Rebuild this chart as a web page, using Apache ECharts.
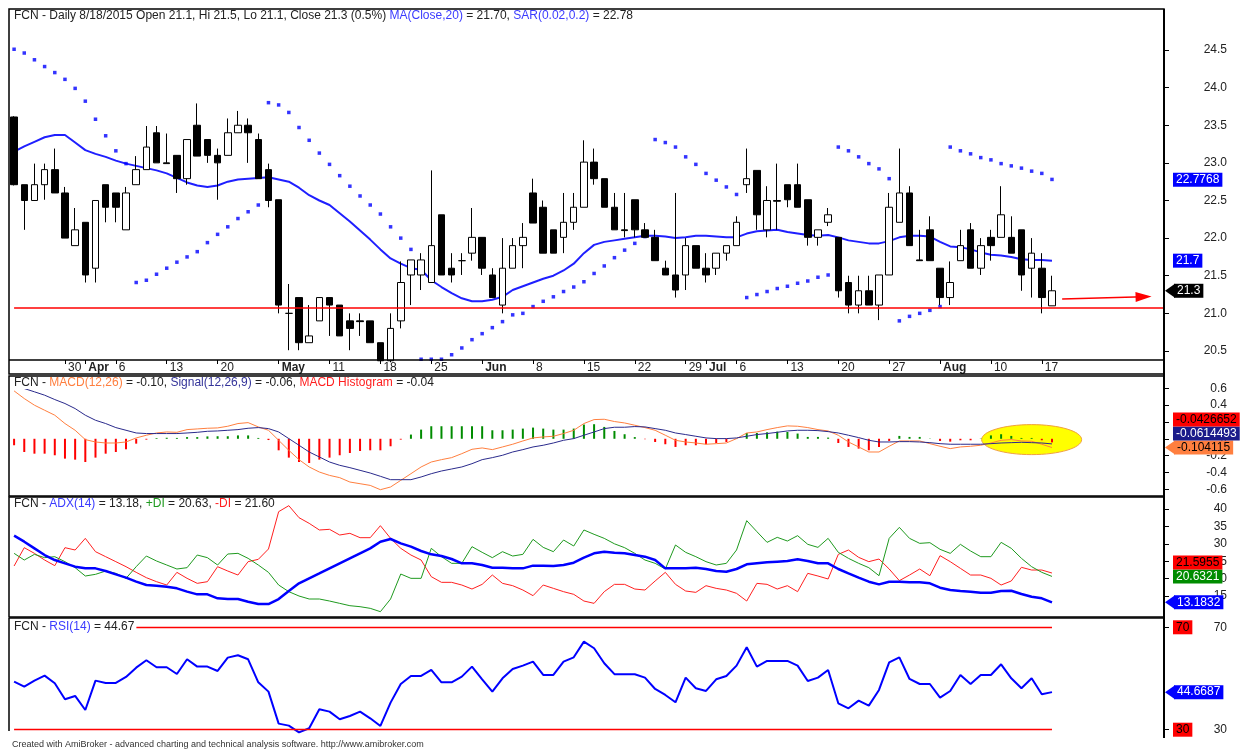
<!DOCTYPE html>
<html>
<head>
<meta charset="utf-8">
<script src="https://cdn.jsdelivr.net/npm/echarts@6/dist/echarts.min.js"></script>
<style>
  html, body { margin: 0; padding: 0; background: #fff; }
  #main { width: 1245px; height: 749px; }
</style>
</head>
<body>
<div id="main"></div>
<script>
// ---- data (Mar 23 - Aug 18, 2015) ----
const dates = [
  '3/23','3/24','3/25','3/26','3/27','3/30','3/31','4/1','4/2','4/3',
  '4/6','4/7','4/8','4/9','4/10','4/13','4/14','4/15','4/16','4/17',
  '4/20','4/21','4/22','4/23','4/24','4/27','5/4','5/5','5/6','5/7',
  '5/8','5/11','5/12','5/13','5/14','5/15','5/18','5/19','5/20','5/21',
  '5/22','5/25','5/26','5/27','5/28','5/29','6/1','6/2','6/3','6/4',
  '6/5','6/8','6/9','6/10','6/11','6/12','6/15','6/16','6/17','6/18',
  '6/19','6/22','6/23','6/24','6/25','6/26','6/29','6/30','7/1','7/2',
  '7/3','7/6','7/7','7/8','7/9','7/10','7/13','7/14','7/15','7/16',
  '7/17','7/20','7/21','7/22','7/23','7/24','7/27','7/28','7/29','7/30',
  '7/31','8/3','8/4','8/5','8/6','8/7','8/10','8/11','8/12','8/13',
  '8/14','8/17','8/18'
];

const openP = [
  23.61,22.71,22.50,22.71,22.91,22.60,21.90,22.21,21.60,22.71,
  22.60,22.11,22.71,22.91,23.40,23.00,23.10,22.79,23.50,23.31,
  23.10,23.10,23.40,23.50,23.31,22.91,22.51,21.00,21.21,20.61,
  20.90,21.21,21.11,20.90,20.90,20.90,20.61,20.37,20.90,21.51,
  21.51,21.41,22.31,21.60,21.70,21.80,22.01,21.51,21.11,21.60,
  21.90,22.60,22.41,22.11,22.01,22.21,22.41,23.01,22.79,22.41,
  22.11,22.51,22.11,22.01,21.60,21.51,21.51,21.90,21.60,21.60,
  21.80,21.90,22.71,22.90,22.11,22.50,22.71,22.71,22.51,22.01,
  22.21,22.01,21.41,21.11,21.30,21.11,21.51,22.21,22.60,21.71,
  22.11,21.60,21.21,21.70,22.11,21.60,22.01,22.01,22.01,22.11,
  21.60,21.60,21.10
];
const highP = [
  23.62,22.71,22.99,22.99,23.19,22.68,22.40,22.21,22.50,22.71,
  22.60,22.68,23.09,23.49,23.49,23.39,23.10,23.31,23.79,23.31,
  23.19,23.59,23.69,23.59,23.39,22.99,22.51,21.39,21.21,21.11,
  21.21,21.21,21.11,21.00,21.00,20.90,20.61,21.00,21.69,21.71,
  21.80,22.90,22.31,21.80,21.80,22.40,22.01,21.60,22.00,22.00,
  22.20,22.79,22.50,22.11,22.60,22.60,23.30,23.19,22.79,22.60,
  22.60,22.51,22.20,22.11,21.70,22.60,22.00,21.90,21.80,21.80,
  21.90,22.29,23.19,22.90,22.69,22.99,22.71,22.99,22.51,22.11,
  22.40,22.01,21.50,21.50,21.50,21.51,22.60,23.19,22.69,22.11,
  22.29,21.60,21.69,22.11,22.20,22.00,22.11,22.69,22.29,22.11,
  22.00,21.80,21.50
];
const lowP = [
  22.70,22.11,22.50,22.51,22.60,22.00,21.90,21.41,21.41,22.21,
  22.21,22.11,22.71,22.91,23.00,22.99,22.60,22.71,23.09,23.00,
  22.51,23.10,23.40,23.00,22.79,22.41,21.00,20.51,20.51,20.61,
  20.90,20.70,20.70,20.51,20.70,20.61,20.35,20.35,20.80,21.11,
  21.31,21.41,21.51,21.41,21.51,21.70,21.51,21.21,21.00,21.60,
  21.60,22.20,21.80,21.80,21.80,22.11,22.41,22.71,22.41,22.11,
  22.01,22.01,22.01,21.70,21.51,21.21,21.31,21.60,21.41,21.51,
  21.70,21.90,22.60,22.11,22.01,22.11,22.41,22.41,21.90,21.90,
  22.16,21.21,21.00,21.00,21.11,20.91,21.51,22.21,21.90,21.70,
  21.70,21.11,21.11,21.70,21.60,21.51,21.70,22.01,21.80,21.30,
  21.21,21.00,21.10
];
const closeP = [
  22.71,22.50,22.71,22.91,22.60,22.00,22.11,21.51,22.50,22.41,
  22.41,22.60,22.91,23.21,23.00,22.99,22.79,23.31,23.09,23.10,
  23.00,23.40,23.50,23.40,22.79,22.50,21.11,21.00,20.61,20.70,
  21.21,21.11,20.70,20.80,20.89,20.61,20.37,20.80,21.41,21.71,
  21.71,21.90,21.51,21.51,21.70,22.01,21.60,21.21,21.60,21.90,
  22.01,22.20,21.80,21.80,22.21,22.41,23.01,22.79,22.41,22.11,
  22.10,22.11,22.01,21.70,21.51,21.31,21.90,21.60,21.51,21.80,
  21.90,22.21,22.79,22.31,22.50,22.49,22.51,22.41,22.01,22.11,
  22.31,21.30,21.11,21.30,21.11,21.51,22.41,22.60,21.90,21.70,
  21.70,21.21,21.41,21.90,21.60,21.90,21.90,22.31,21.80,21.51,
  21.80,21.21,21.30
];

const ma20 = [
  23.15,23.22,23.28,23.34,23.37,23.37,23.27,23.17,23.12,23.08,
  23.03,22.99,22.96,22.93,22.90,22.86,22.80,22.74,22.70,22.68,
  22.70,22.75,22.78,22.79,22.80,22.81,22.78,22.75,22.67,22.57,
  22.50,22.44,22.33,22.22,22.10,21.98,21.85,21.73,21.66,21.60,
  21.58,21.44,21.35,21.27,21.20,21.16,21.16,21.18,21.22,21.31,
  21.36,21.41,21.46,21.50,21.57,21.66,21.80,21.91,21.95,21.97,
  21.99,22.01,22.03,22.03,22.02,22.00,22.01,22.03,22.03,22.02,
  22.01,22.01,22.06,22.09,22.10,22.11,22.08,22.06,22.04,22.03,
  22.04,22.01,21.97,21.95,21.93,21.93,21.96,22.01,22.03,22.03,
  22.02,21.95,21.89,21.88,21.85,21.81,21.78,21.77,21.75,21.72,
  21.71,21.71,21.70
];

const sar = [
  24.51,24.46,24.37,24.28,24.20,24.11,23.99,23.82,23.58,23.36,
  23.16,22.99,21.41,21.44,21.52,21.60,21.68,21.75,21.82,21.94,
  22.05,22.15,22.26,22.35,22.44,23.80,23.77,23.67,23.47,23.30,
  23.13,22.98,22.83,22.69,22.56,22.44,22.32,22.15,22.00,21.85,
  20.39,20.39,20.39,20.45,20.54,20.65,20.73,20.81,20.89,20.98,
  21.00,21.09,21.16,21.22,21.29,21.35,21.42,21.53,21.63,21.74,
  21.84,21.93,22.02,23.31,23.27,23.21,23.08,22.98,22.86,22.77,
  22.68,22.58,21.21,21.25,21.29,21.33,21.36,21.40,21.43,21.48,
  21.51,23.21,23.16,23.08,22.99,22.92,22.79,20.90,20.96,21.00,
  21.04,21.09,23.21,23.16,23.12,23.07,23.04,22.99,22.96,22.93,
  22.89,22.86,22.78
];

const macd = [
  0.569,0.478,0.399,0.339,0.280,0.181,0.101,-0.010,-0.038,-0.050,
  -0.050,-0.038,0.010,0.042,0.069,0.081,0.077,0.109,0.117,0.125,
  0.129,0.149,0.181,0.192,0.141,0.101,-0.018,-0.137,-0.248,-0.335,
  -0.395,-0.435,-0.462,-0.514,-0.534,-0.554,-0.605,-0.573,-0.494,-0.415,
  -0.335,-0.276,-0.248,-0.224,-0.177,-0.125,-0.109,-0.129,-0.097,-0.065,
  -0.026,0.010,0.022,0.030,0.062,0.101,0.181,0.228,0.232,0.205,
  0.188,0.161,0.133,0.101,0.042,-0.018,-0.038,-0.050,-0.065,-0.058,
  -0.050,0.002,0.069,0.081,0.109,0.133,0.153,0.149,0.133,0.109,
  0.093,0.042,-0.038,-0.097,-0.157,-0.157,-0.089,-0.026,-0.026,-0.026,
  -0.058,-0.089,-0.117,-0.097,-0.089,-0.077,-0.050,-0.018,-0.010,-0.026,
  -0.030,-0.065,-0.104
];
const signal = [
  0.640,0.597,0.558,0.518,0.466,0.419,0.359,0.280,0.220,0.181,
  0.133,0.101,0.069,0.062,0.062,0.062,0.062,0.069,0.077,0.089,
  0.093,0.101,0.109,0.125,0.133,0.121,0.081,0.002,-0.077,-0.157,
  -0.216,-0.276,-0.315,-0.343,-0.375,-0.407,-0.446,-0.486,-0.486,-0.486,
  -0.454,-0.415,-0.383,-0.359,-0.335,-0.296,-0.248,-0.224,-0.196,-0.157,
  -0.129,-0.097,-0.077,-0.050,-0.018,0.002,0.042,0.081,0.121,0.137,
  0.137,0.145,0.141,0.121,0.101,0.069,0.050,0.030,0.010,0.002,
  0.002,0.010,0.030,0.050,0.062,0.077,0.093,0.101,0.101,0.097,
  0.085,0.069,0.042,0.014,-0.018,-0.038,-0.038,-0.034,-0.034,-0.038,
  -0.046,-0.058,-0.065,-0.065,-0.065,-0.065,-0.058,-0.050,-0.046,-0.042,
  -0.046,-0.050,-0.061
];
const hist = [
  -0.077,-0.157,-0.177,-0.177,-0.196,-0.236,-0.248,-0.276,-0.224,-0.177,
  -0.157,-0.125,-0.058,-0.010,0.008,0.012,0.010,0.020,0.020,0.028,
  0.030,0.030,0.040,0.040,0.010,-0.015,-0.137,-0.224,-0.276,-0.288,
  -0.248,-0.224,-0.196,-0.169,-0.145,-0.137,-0.137,-0.089,-0.010,0.050,
  0.109,0.149,0.149,0.149,0.149,0.149,0.149,0.101,0.101,0.109,
  0.121,0.133,0.121,0.109,0.109,0.121,0.169,0.173,0.141,0.093,
  0.054,0.020,-0.005,-0.038,-0.065,-0.097,-0.077,-0.077,-0.065,-0.050,
  -0.038,0.003,0.069,0.069,0.077,0.085,0.081,0.062,0.022,0.022,
  0.014,-0.050,-0.097,-0.117,-0.137,-0.097,-0.026,0.034,0.022,0.022,
  0.003,-0.026,-0.034,-0.018,-0.018,0.003,0.040,0.054,0.034,0.010,
  0.010,-0.018,-0.043
];

const adx = [
  32.34,30.61,28.70,26.78,25.34,24.39,23.43,22.95,22.95,22.18,
  21.23,20.27,19.12,18.16,17.97,17.68,17.20,16.25,15.48,15.48,
  14.33,14.14,14.14,13.37,12.70,12.70,14.14,16.44,18.64,20.08,
  21.51,22.95,24.39,25.82,27.26,28.70,30.61,31.38,30.13,29.18,
  27.93,26.97,26.49,25.63,24.39,24.39,23.91,23.14,23.14,22.95,
  22.95,23.72,23.72,23.62,23.91,24.58,26.02,27.26,27.74,27.40,
  27.26,26.78,26.30,25.34,22.95,22.95,22.95,23.14,22.76,22.18,
  21.99,22.76,24.10,24.39,24.67,24.87,25.06,25.54,25.06,24.39,
  24.39,22.76,21.51,20.27,19.12,18.35,19.12,19.12,18.93,18.93,
  18.64,17.39,16.72,16.44,16.25,15.96,15.96,16.44,16.53,15.57,
  14.81,14.33,13.18
];
const plusDI = [
  27.26,25.34,26.97,26.02,26.30,24.87,23.14,20.75,21.23,22.18,
  21.51,20.08,23.43,26.49,25.06,23.91,22.76,23.14,26.78,26.02,
  23.91,27.07,27.26,25.82,23.91,21.80,18.16,16.25,15.00,14.14,
  14.14,13.56,12.89,12.22,11.93,11.46,10.50,14.14,21.32,20.08,
  20.08,28.70,26.30,24.39,24.39,29.18,27.55,26.02,27.74,26.49,
  26.97,31.28,28.98,27.74,31.09,29.37,33.97,32.72,31.57,30.00,
  28.89,27.26,25.34,24.39,22.76,29.66,27.55,26.30,24.87,23.91,
  24.39,28.22,36.65,33.49,30.42,31.86,30.80,32.34,29.85,28.98,
  31.57,27.55,25.82,24.39,23.14,20.84,31.57,34.73,31.57,30.13,
  30.33,28.41,27.26,29.85,27.93,26.30,26.30,30.42,28.70,25.82,
  23.43,21.80,20.63
];
const minusDI = [
  23.62,28.89,27.26,25.34,23.72,28.89,28.22,31.57,27.74,26.30,
  24.87,23.43,21.80,20.27,19.12,18.16,21.80,20.08,18.64,19.12,
  23.43,22.18,21.03,24.87,25.54,28.51,39.23,40.96,37.51,35.88,
  33.97,34.16,32.53,33.01,31.76,31.76,35.21,31.57,28.70,26.78,
  25.34,20.56,18.93,18.93,18.16,17.01,18.35,21.03,18.64,17.97,
  16.72,15.10,18.16,17.20,16.25,15.48,13.56,12.89,16.25,18.35,
  18.35,17.01,16.72,19.31,21.80,18.35,16.44,16.05,17.97,17.20,
  16.72,15.77,13.56,18.64,18.35,17.01,17.97,16.25,21.51,20.75,
  19.89,26.97,28.22,26.11,24.87,25.63,22.76,19.41,21.03,22.76,
  20.84,26.59,24.87,22.95,21.03,21.03,20.08,18.16,19.31,23.24,
  22.47,22.47,21.60
];

const rsi = [
  48.78,46.82,49.17,51.12,48.13,41.88,43.18,37.71,49.17,48.26,
  48.26,50.60,54.24,57.11,54.38,54.38,51.77,57.50,54.64,54.64,
  52.94,58.15,59.06,57.50,48.52,44.87,32.37,31.59,28.98,30.55,
  37.97,37.06,34.06,35.36,37.06,34.45,31.46,40.57,47.86,50.99,
  50.99,53.33,48.52,48.52,50.73,54.64,49.69,44.87,50.08,53.72,
  55.03,56.59,51.38,51.38,56.59,58.28,64.40,61.80,55.94,51.70,
  51.64,51.64,50.34,45.91,43.57,40.70,50.34,46.17,45.13,49.69,
  50.99,55.03,62.19,54.64,56.85,56.85,56.85,55.03,49.04,50.34,
  53.33,40.31,38.36,41.35,39.40,45.52,56.33,58.28,49.82,47.86,
  47.86,42.53,45.13,51.38,47.86,51.38,51.38,55.55,50.08,46.17,
  50.08,43.83,44.67
];

// date axis labels (bar index -> text)
const tickPos  = [5, 7, 10, 15, 20, 26, 31, 36, 41, 46, 51, 56, 61, 66, 68, 71, 76, 81, 86, 91, 96, 101];
const tickText = ['30','Apr','6','13','20','May','11','18','25','Jun','8','15','22','29','Jul','6','13','20','27','Aug','10','17'];
const months = ['Apr', 'May', 'Jun', 'Jul', 'Aug'];

const priceTicks = [20.5, 21.0, 21.5, 22.0, 22.5, 23.0, 23.5, 24.0, 24.5];
const macdTicks  = [-0.6, -0.4, -0.2, 0, 0.2, 0.4, 0.6];
const adxTicks   = [15, 20, 25, 30, 35, 40];
const rsiTicks   = [30, 70];

const supportLevel = 21.07;   // red horizontal line
const rsiLevels = [70, 30];
const padBars = 11;           // empty space right of last bar

// -----------------------------------------------------------------
const FONT = 'Arial, "Liberation Sans", sans-serif';
const cats = dates.concat(Array.from({ length: padBars }, (_, k) => 'pad' + k));
const showTick = (i) => tickPos.indexOf(i) >= 0;

const ohlc = dates.map((d, i) => [openP[i], closeP[i], lowP[i], highP[i]]);

const grids = [
  { left: 9, width: 1160, top: 9,   height: 351 },
  { left: 9, width: 1160, top: 376, height: 120 },
  { left: 9, width: 1160, top: 497, height: 120 },
  { left: 9, width: 1160, top: 618, height: 120 }
];

const yCfg = [
  { min: 20.38, max: 25.045, ticks: priceTicks, fmt: v => v.toFixed(1) },
  { min: -0.68, max: 0.746, ticks: macdTicks, fmt: v => String(v) },
  { min: 8.97, max: 43.45, ticks: adxTicks, fmt: v => String(v) },
  { min: 26.76, max: 73.63, ticks: rsiTicks, fmt: v => String(v) }
];

const rich = (c) => ({ color: c, fontSize: 12, fontFamily: FONT, fontWeight: 'normal' });
const titleStyle = {
  fontSize: 12, fontWeight: 'normal', fontFamily: FONT, color: '#222',
  rich: {
    d: rich('#222'), bl: rich('#3b3bff'), o: rich('#ff7f3f'), n: rich('#34349a'),
    r: rich('#ff2020'), g: rich('#1f9a1f')
  }
};
const redLine = { color: '#ff0000', width: 1.3, type: 'solid', opacity: 1 };

var option = {
  animation: false,
  backgroundColor: '#fff',
  textStyle: { fontFamily: FONT },
  title: [
    { left: 12, top: 10, padding: [0, 2], backgroundColor: '#fff', textStyle: titleStyle,
      text: '{d|FCN - Daily 8/18/2015 Open 21.1, Hi 21.5, Lo 21.1, Close 21.3 (0.5%) }{bl|MA(Close,20)}{d| = 21.70, }{bl|SAR(0.02,0.2)}{d| = 22.78}' },
    { left: 12, top: 377, padding: [0, 2], backgroundColor: '#fff', textStyle: titleStyle,
      text: '{d|FCN - }{o|MACD(12,26)}{d| = -0.10, }{n|Signal(12,26,9)}{d| = -0.06, }{r|MACD Histogram}{d| = -0.04}' },
    { left: 12, top: 498, padding: [0, 2], backgroundColor: '#fff', textStyle: titleStyle,
      text: '{d|FCN - }{bl|ADX(14)}{d| = 13.18, }{g|+DI}{d| = 20.63, }{r|-DI}{d| = 21.60}' },
    { left: 12, top: 621, padding: [0, 2], backgroundColor: '#fff', textStyle: titleStyle,
      text: '{d|FCN - }{bl|RSI(14)}{d| = 44.67}' },
    { left: 12, top: 740, padding: 0, backgroundColor: '#fff',
      text: 'Created with AmiBroker - advanced charting and technical analysis software. http://www.amibroker.com',
      textStyle: { fontSize: 9, fontWeight: 'normal', fontFamily: FONT, color: '#333' } }
  ],
  grid: grids,
  xAxis: grids.map((g, gi) => ({
    type: 'category', gridIndex: gi, data: cats, boundaryGap: true,
    axisLine: { show: false },
    splitLine: { show: false },
    axisTick: { show: gi === 0, alignWithLabel: true, interval: showTick, length: 4,
                lineStyle: { color: '#000', width: 1 } },
    axisLabel: {
      show: gi === 0, interval: showTick, align: 'left', margin: 2, padding: [0, 0, 0, 3],
      fontSize: 12, color: '#222', fontFamily: FONT,
      formatter: (v, i) => {
        const t = tickText[tickPos.indexOf(i)] || '';
        return months.indexOf(t) >= 0 ? '{m|' + t + '}' : t;
      },
      rich: { m: { fontWeight: 'bold', fontSize: 12, color: '#222', fontFamily: FONT } }
    }
  })),
  yAxis: yCfg.map((c, gi) => ({
    type: 'value', gridIndex: gi, position: 'right', offset: -5,
    min: c.min, max: c.max, scale: true,
    splitLine: { show: false },
    axisLine: { show: false },
    axisTick: { show: true, customValues: c.ticks, length: 5, lineStyle: { color: '#000' } },
    axisLabel: { customValues: c.ticks, formatter: c.fmt, align: 'right', margin: 63,
                 fontSize: 12, color: '#222', fontFamily: FONT }
  })),
  series: [
    {
      name: 'MA20', type: 'line', xAxisIndex: 0, yAxisIndex: 0, data: ma20, z: 1,
      symbol: 'none', lineStyle: { color: '#1f1fff', width: 2 }
    },
    {
      name: 'SAR', type: 'scatter', xAxisIndex: 0, yAxisIndex: 0, data: sar, z: 1,
      symbol: 'rect', symbolSize: 3.5, itemStyle: { color: '#0000ff' }
    },
    {
      name: 'FCN', type: 'candlestick', xAxisIndex: 0, yAxisIndex: 0, data: ohlc, z: 3,
      barWidth: 7,
      itemStyle: { color: '#fff', color0: '#000', borderColor: '#000', borderColor0: '#000', borderWidth: 1 },
      markLine: {
        silent: true, symbol: ['none', 'none'], label: { show: false },
        emphasis: { disabled: true },
        lineStyle: { color: '#ff0000', width: 1.5, type: 'solid' },
        data: [
          [{ coord: [0, supportLevel] }, { coord: [cats.length - 1, supportLevel] }],
          [{ coord: [103, 21.19] }, { coord: [111, 21.22], symbol: 'triangle', symbolSize: [10, 16] }]
        ]
      }
    },
    {
      name: 'MACD Histogram', type: 'bar', xAxisIndex: 1, yAxisIndex: 1, barWidth: 2,
      data: hist.map(v => ({ value: v, itemStyle: { color: v >= 0 ? '#008c00' : '#ff0000' } }))
    },
    {
      name: 'MACD', type: 'line', xAxisIndex: 1, yAxisIndex: 1, data: macd,
      symbol: 'none', lineStyle: { color: '#ff7f3f', width: 1 }
    },
    {
      name: 'Signal', type: 'line', xAxisIndex: 1, yAxisIndex: 1, data: signal,
      symbol: 'none', lineStyle: { color: '#2a2a8c', width: 1 }
    },
    {
      name: '-DI', type: 'line', xAxisIndex: 2, yAxisIndex: 2, data: minusDI,
      symbol: 'none', lineStyle: { color: '#ff2020', width: 1 }
    },
    {
      name: '+DI', type: 'line', xAxisIndex: 2, yAxisIndex: 2, data: plusDI,
      symbol: 'none', lineStyle: { color: '#1f9a1f', width: 1 }
    },
    {
      name: 'ADX', type: 'line', xAxisIndex: 2, yAxisIndex: 2, data: adx,
      symbol: 'none', lineStyle: { color: '#0000ff', width: 2.5 }
    },
    {
      name: 'RSI', type: 'line', xAxisIndex: 3, yAxisIndex: 3, data: rsi, z: 3,
      symbol: 'none', lineStyle: { color: '#0000ff', width: 2 }
    },
    {
      name: 'RSI levels', type: 'line', xAxisIndex: 3, yAxisIndex: 3, data: [], z: 2,
      symbol: 'none', color: '#ff0000',
      markLine: {
        silent: true, symbol: ['none', 'none'], label: { show: false },
        emphasis: { disabled: true },
        lineStyle: redLine,
        data: rsiLevels.map(lv => [
          { coord: [0, lv], lineStyle: redLine },
          { coord: [dates.length - 1, lv], lineStyle: redLine }
        ])
      }
    }
  ]
};

var chart = echarts.init(document.getElementById('main'));
chart.setOption(option);

// ---- value tags on the right axis, frames, highlight ellipse ----
const tagSets = [
  [ { v: 22.7768, text: '22.7768', bg: '#0000ff', fg: '#fff' },
    { v: 21.70, text: '21.7', bg: '#0000ff', fg: '#fff' },
    { v: 21.3, text: '21.3', bg: '#000', fg: '#fff', arrow: true } ],
  [ { v: -0.0426652, text: '-0.0426652', bg: '#ff0000', fg: '#000' },
    { v: -0.0614493, text: '-0.0614493', bg: '#1c1c8a', fg: '#fff' },
    { v: -0.104115, text: '-0.104115', bg: '#ff7f3f', fg: '#000', arrow: true } ],
  [ { v: 21.5955, text: '21.5955', bg: '#ff0000', fg: '#000' },
    { v: 20.6321, text: '20.6321', bg: '#008c00', fg: '#fff' },
    { v: 13.1832, text: '13.1832', bg: '#0000ff', fg: '#fff', arrow: true } ],
  [ { v: 70, text: '70', bg: '#ff0000', fg: '#000' },
    { v: 30, text: '30', bg: '#ff0000', fg: '#000' },
    { v: 44.6687, text: '44.6687', bg: '#0000ff', fg: '#fff', arrow: true } ]
];

const els = [];
const axisX = 1164;
tagSets.forEach((set, gi) => {
  const items = set.map(t => Object.assign({}, t, { y: chart.convertToPixel({ yAxisIndex: gi }, t.v) }));
  items.sort((a, b) => b.y - a.y);
  for (let k = 1; k < items.length; k++) {
    if (items[k - 1].y - items[k].y < 14) items[k].y = items[k - 1].y - 14;
  }
  items.forEach(t => {
    const bx = t.arrow ? axisX + 10 : axisX + 9;
    if (t.arrow) {
      els.push({ type: 'polygon', z: 100, silent: true,
        shape: { points: [[axisX + 1, t.y], [bx + 1, t.y - 7], [bx + 1, t.y + 7]] },
        style: { fill: t.bg } });
    }
    els.push({ type: 'text', z: 100, silent: true, x: bx, y: t.y,
      style: { text: t.text, fill: t.fg, font: '12px ' + FONT, backgroundColor: t.bg,
               padding: [1, 3, 1, 3], lineHeight: 12, verticalAlign: 'middle', align: 'left' } });
  });
});

// yellow highlight round the last MACD bars
const ec = chart.convertToPixel({ xAxisIndex: 1, yAxisIndex: 1 }, [100, -0.01]);
els.push({ type: 'ellipse', z: 1, silent: true,
  shape: { cx: ec[0], cy: ec[1], rx: 50, ry: 15 },
  style: { fill: '#ffff00', stroke: '#f0a040', lineWidth: 1 } });

// panel frames
const frame = { fill: 'none', stroke: '#000', lineWidth: 1.5 };
const line = (x1, y1, x2, y2, w) => ({ type: 'line', z: 50, silent: true,
  shape: { x1, y1, x2, y2 }, style: { stroke: '#000', lineWidth: w || 1.5 } });
els.push(
  { type: 'rect', z: 50, silent: true, shape: { x: 9, y: 9, width: 1155, height: 365 }, style: frame },
  line(9, 360, 1164, 360),
  { type: 'rect', z: 50, silent: true, shape: { x: 9, y: 376, width: 1155, height: 120 }, style: frame },
  { type: 'rect', z: 50, silent: true, shape: { x: 9, y: 497, width: 1155, height: 120 }, style: frame },
  line(9, 618, 1164, 618),
  line(9, 618, 9, 731),
  line(axisX, 9, axisX, 738, 2)
);

chart.setOption({ graphic: { elements: els } });
window.addEventListener('resize', () => chart.resize());
</script>
</body>
</html>
